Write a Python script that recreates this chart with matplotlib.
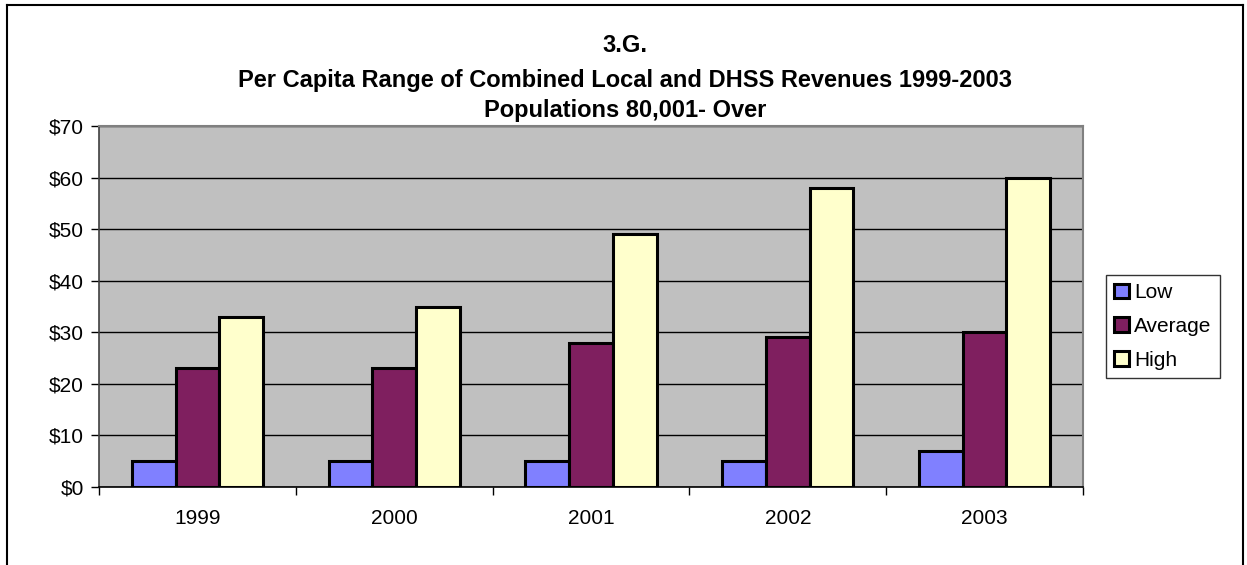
import matplotlib
matplotlib.use("Agg")
import matplotlib.pyplot as plt
import numpy as np

years = ["1999", "2000", "2001", "2002", "2003"]
low = [5, 5, 5, 5, 7]
average = [23, 23, 28, 29, 30]
high = [33, 35, 49, 58, 60]
series_names = ["Low", "Average", "High"]
colors = ["#8080FF", "#7F1F5F", "#FFFFCC"]
yticks = [0, 10, 20, 30, 40, 50, 60, 70]

plt.rcParams['font.family'] = ['Liberation Sans', 'DejaVu Sans']

fig = plt.figure(figsize=(12.47, 5.65), dpi=100)
ax = fig.add_axes([99/1247, 1-487/565, (1083-99)/1247, (487-126)/565])
ax.set_facecolor("#C0C0C0")

x = np.arange(len(years))
w = 1/4.5
for i, (vals, c, name) in enumerate(zip([low, average, high], colors, series_names)):
    ax.bar(x + (i-1)*w, vals, width=w, color=c, edgecolor="black", linewidth=2.2,
           label=name, zorder=3)

ax.set_xlim(-0.5, len(years)-0.5)
ax.set_ylim(0, 70)
ax.set_yticks(yticks)
ax.set_yticklabels([f"${v}" for v in yticks], fontsize=15)
ax.yaxis.grid(True, color="black", linewidth=1.0, zorder=1)
ax.set_axisbelow(True)

ax.set_xticks(x)
ax.set_xticklabels(years, fontsize=15)
ax.tick_params(axis='x', length=0, pad=16)
ax.set_xticks(np.arange(-0.5, len(years)), minor=True)
ax.tick_params(axis='x', which='minor', length=6, width=1, direction='out', color='black')
ax.tick_params(axis='y', length=6, width=1, direction='out', pad=5)

for s in ["top", "right"]:
    ax.spines[s].set_color("#808080")
    ax.spines[s].set_linewidth(1.5)
ax.spines["left"].set_color("#404040")
ax.spines["bottom"].set_color("black")
ax.spines["left"].set_linewidth(1.2)
ax.spines["bottom"].set_linewidth(1.2)

tx = 625/1247
fig.text(tx, 1-46/565, "3.G.", ha="center", va="center", fontsize=17, fontweight="bold")
fig.text(tx, 1-80/565, "Per Capita Range of Combined Local and DHSS Revenues 1999-2003",
         ha="center", va="center", fontsize=17, fontweight="bold")
fig.text(tx, 1-111/565, "Populations 80,001- Over", ha="center", va="center",
         fontsize=17, fontweight="bold")

leg = fig.legend(loc="upper left", bbox_to_anchor=(1106/1247, 1-275/565),
                 fontsize=15, frameon=True, fancybox=False, edgecolor="black",
                 handlelength=0.7, handleheight=0.7, handletextpad=0.25,
                 borderpad=0.4, labelspacing=0.7, borderaxespad=0)
leg.get_frame().set_linewidth(1.0)

# outer chart border (bottom cut off)
fig.add_artist(plt.Line2D([7/1247, 7/1247], [0, 1-5/565], color="black", lw=1.5, transform=fig.transFigure))
fig.add_artist(plt.Line2D([7/1247, 1243/1247], [1-5/565, 1-5/565], color="black", lw=1.5, transform=fig.transFigure))
fig.add_artist(plt.Line2D([1243/1247, 1243/1247], [0, 1-5/565], color="black", lw=1.5, transform=fig.transFigure))

fig.savefig("out.png", dpi=100)
